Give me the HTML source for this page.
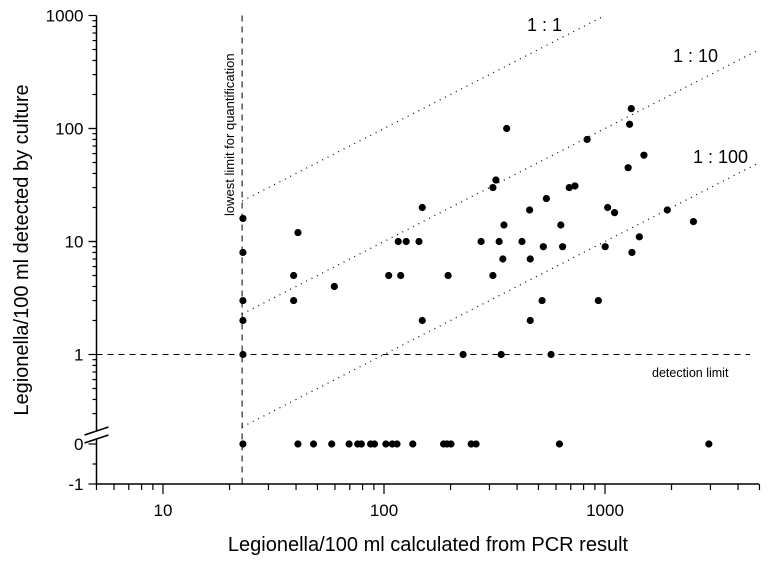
<!DOCTYPE html>
<html><head><meta charset="utf-8"><style>
html,body{margin:0;padding:0;background:#fff;}
svg{display:block;font-family:"Liberation Sans",Arial,sans-serif;}
</style></head><body>
<svg id="chart" width="769" height="561" viewBox="0 0 769 561" xmlns="http://www.w3.org/2000/svg">
<g id="axes"></g>
<g id="refs"></g>
<g id="pts"></g>
<text transform="translate(28,250) rotate(-90)" text-anchor="middle" font-size="20">Legionella/100 ml detected by culture</text>
<text x="428" y="551" text-anchor="middle" font-size="20">Legionella/100 ml calculated from PCR result</text>
<text transform="translate(234,216) rotate(-90)" font-size="13">lowest limit for quantification</text>
<text x="652" y="377" font-size="12.5">detection limit</text>
<text x="527" y="31" font-size="18">1 : 1</text>
<text x="673" y="62" font-size="18">1 : 10</text>
<text x="693" y="163" font-size="18">1 : 100</text>
</svg>
<script>
const xVals=[23,23,23,23,23,40.8,39,39,59.6,105,119,116,126,144,149,149,1315,1292,359,830,1500,1273,321,311,689,731,543,456,1028,1105,1914,2513,349,631,1430,275,332,421,526,643,1002,1324,345,459,195,311,519,933,459,228,339,570];
const yVals=[16,8,3,2,1,12,5,3,4,5,5,10,10,10,20,2,150,109,100,80,58,45,35,30,30,31,24,19,20,18,19,15,14,14,11,10,10,10,9,9,9,8,7,7,5,5,3,3,2,1,1,1];
const zeroXVals=[23,40.8,48,58,69.5,76,79,87,90.6,102,109,114.5,135,186,193,201,248,261,622,2950];
const xTickLabels=["10","100","1000"];
const yTickLabels=["1","10","100","1000"];
const ratios=[1,10,100];
const llq=22.8;
const NS="http://www.w3.org/2000/svg";
function X(v){return 163+221*(Math.log10(v)-1);}
function Y(v){return 354.5-113*Math.log10(v);}
function Ylin(v){return 444-40*v;}
function mk(tag,attrs,parent){const e=document.createElementNS(NS,tag);for(const k in attrs)e.setAttribute(k,attrs[k]);parent.appendChild(e);return e;}
const axes=document.getElementById('axes'),refs=document.getElementById('refs'),pts=document.getElementById('pts');
const x0=96.5,x1=759,yTop=15.5,yBot=484;
let l=mk('line',{x1:x0,y1:yTop,x2:x0,y2:yBot,stroke:'#000','stroke-width':1.5},axes);

l=mk('line',{x1:x0-1,y1:yBot,x2:x1,y2:yBot,stroke:'#000','stroke-width':1.5},axes);

for(let d=0;d<4;d++){for(let m=1;m<10;m++){const v=Math.pow(10,d)*m;if(v<5||v>5000)continue;const x=X(v);const major=(m===1);
 const t=mk('line',{x1:x,y1:yBot,x2:x,y2:yBot+(major?10:6),stroke:'#000','stroke-width':1.2},axes);
 }}
xTickLabels.forEach(s=>{const t=mk('text',{x:X(+s),y:516,'text-anchor':'middle','font-size':17},axes);t.textContent=s;
 });
for(let d=0;d<3;d++){for(let m=1;m<=10;m++){const v=Math.pow(10,d)*m;const y=Y(v);const major=(m===1||m===10);
 const t=mk('line',{x1:x0-(major?8:4),y1:y,x2:x0,y2:y,stroke:'#000','stroke-width':1.2},axes);
 }}
for(let m=9;m>=3;m--){const y=Y(m/10);const t=mk('line',{x1:x0-4,y1:y,x2:x0,y2:y,stroke:'#000','stroke-width':1.2},axes);
 }
[0,-1].forEach(v=>{const t=mk('line',{x1:x0-8,y1:Ylin(v),x2:x0,y2:Ylin(v),stroke:'#000','stroke-width':1.2},axes);
 
 const s=mk('text',{x:x0-13,y:Ylin(v)+6,'text-anchor':'end','font-size':17},axes);s.textContent=String(v);
 });
const t0=mk('line',{x1:x0-4,y1:464,x2:x0,y2:464,stroke:'#000','stroke-width':1.2},axes);

yTickLabels.forEach(s=>{const t=mk('text',{x:x0-13,y:Y(+s)+6,'text-anchor':'end','font-size':17},axes);t.textContent=s;
 });
const br=mk('g',{},axes);

mk('rect',{x:x0-3,y:431,width:6,height:8,fill:'#fff'},br);
mk('line',{x1:x0-12,y1:435,x2:x0+12,y2:427,stroke:'#000','stroke-width':1.5},br);
mk('line',{x1:x0-12,y1:443,x2:x0+12,y2:435,stroke:'#000','stroke-width':1.5},br);
l=mk('line',{x1:X(llq),y1:yTop,x2:X(llq),y2:yBot,stroke:'#000','stroke-width':1,'stroke-dasharray':'6,5'},refs);

l=mk('line',{x1:x0,y1:Y(1),x2:750,y2:Y(1),stroke:'#000','stroke-width':1,'stroke-dasharray':'6,5'},refs);

ratios.forEach(r=>{let xe=Math.min(5000,1000*r);const l2=mk('line',{x1:X(llq),y1:Y(llq/r),x2:X(xe),y2:Y(xe/r),stroke:'#000','stroke-width':1.2,'stroke-dasharray':'1,5'},refs);
 });
xVals.forEach((v,i)=>{const c=mk('circle',{cx:X(v),cy:Y(yVals[i]),r:3.6,fill:'#000'},pts);
 });
zeroXVals.forEach(v=>{const c=mk('circle',{cx:X(v),cy:Ylin(0),r:3.6,fill:'#000'},pts);
 });
</script>
</body></html>
